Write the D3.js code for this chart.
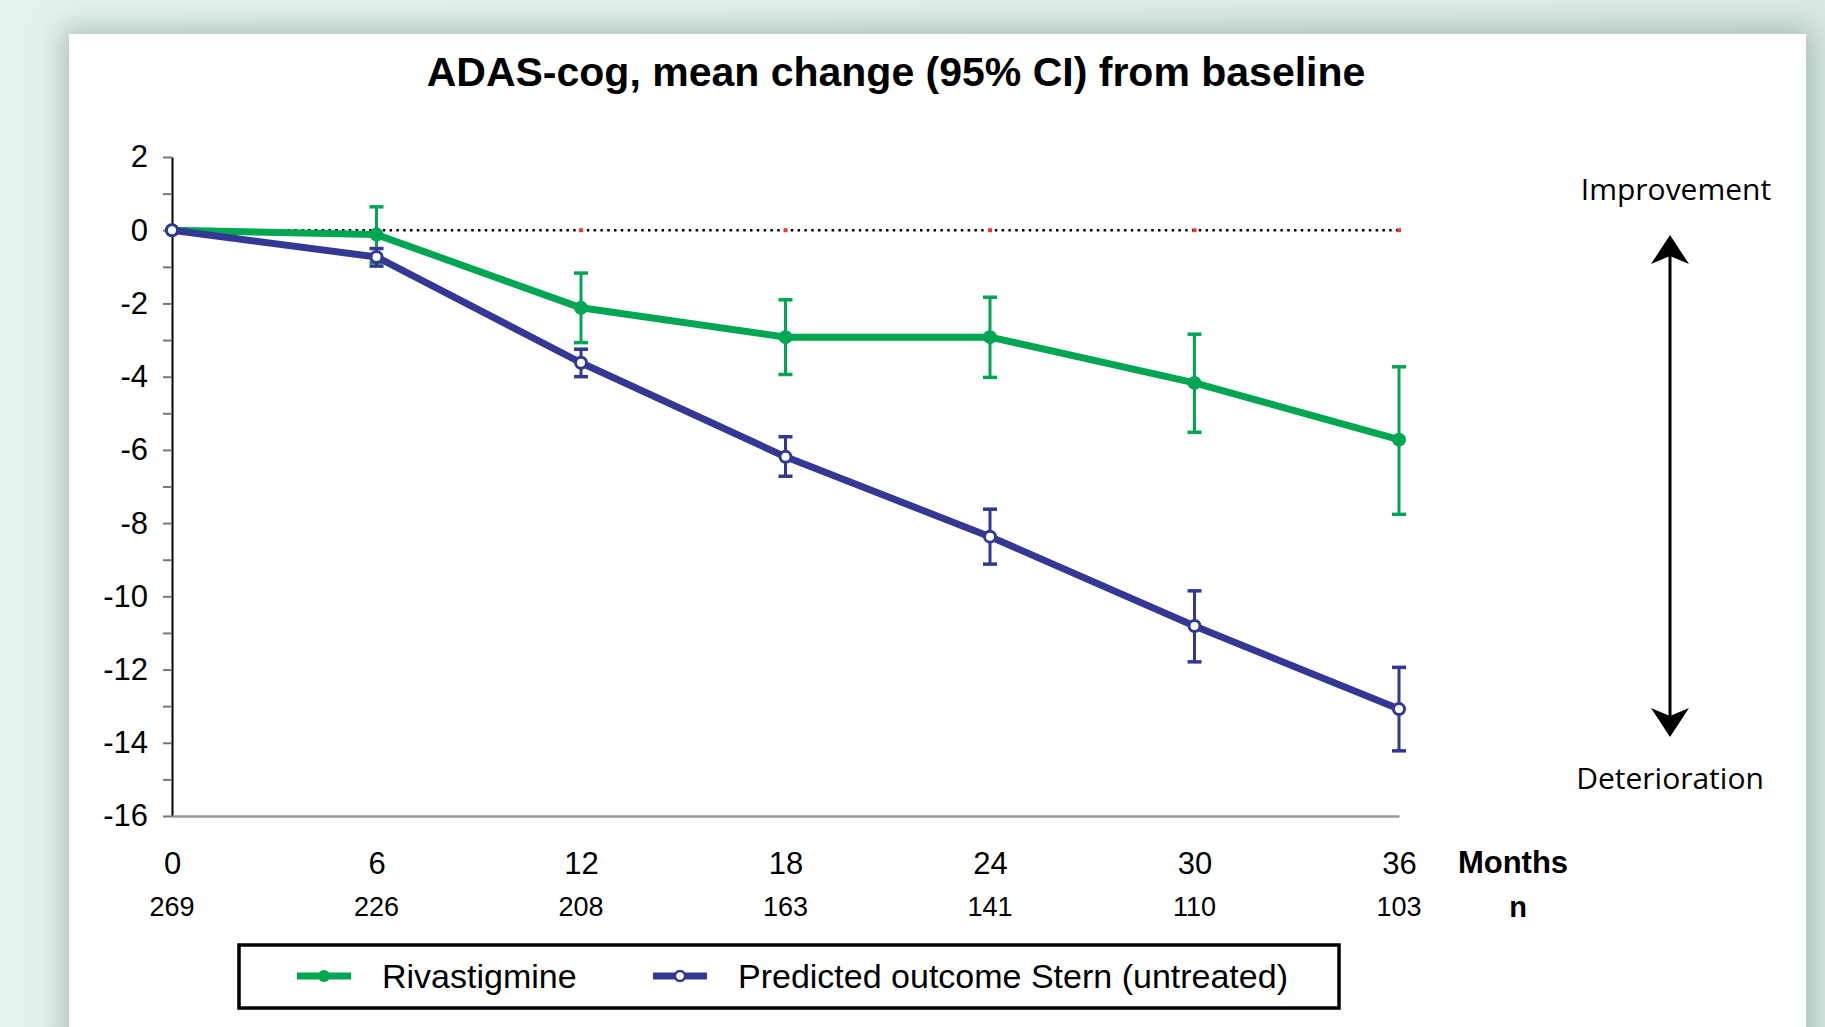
<!DOCTYPE html>
<html>
<head>
<meta charset="utf-8">
<script src="https://cdn.jsdelivr.net/npm/d3@7"></script>
<style>
  html, body { margin: 0; padding: 0; }
  body { width: 1825px; height: 1027px; overflow: hidden;
         background: linear-gradient(90deg, #e6f2ef 0%, #e2eeeb 50%, #dbe8e4 100%); }
  #card { position: absolute; left: 69px; top: 34px; width: 1737px; height: 1100px; background: #fff;
          box-shadow: 0 0 28px 6px rgba(120,150,140,0.55); }
  svg { position: absolute; left: 0; top: 0; }
</style>
</head>
<body>
<div id="card"></div>
<svg id="chart" width="1825" height="1027"></svg>
<script>
// ---- data ----
const months = [0, 6, 12, 18, 24, 30, 36];
const nLabels = ["269", "226", "208", "163", "141", "110", "103"];
const yTicks = [2, 0, -2, -4, -6, -8, -10, -12, -14, -16];

const rivaMean  = [0, -0.12, -2.12, -2.92, -2.92, -4.17, -5.72];
const rivaLow   = [null, -0.88, -3.07, -3.94, -4.02, -5.52, -7.76];
const rivaHigh  = [null, 0.64, -1.17, -1.90, -1.83, -2.84, -3.73];

const sternMean = [0, -0.73, -3.62, -6.19, -8.37, -10.81, -13.08];
const sternLow  = [null, -0.98, -4.00, -6.72, -9.12, -11.79, -14.22];
const sternHigh = [null, -0.50, -3.25, -5.64, -7.62, -9.85, -11.94];

const refMarkMonths = [6, 12, 18, 24, 30, 36];

const seriesNames = ["Rivastigmine", "Predicted outcome Stern (untreated)"];
const titleText = "ADAS-cog, mean change (95% CI) from baseline";

// ---- drawing ----
const green = "#00a651", blue = "#333894";
const svg = d3.select("#chart");
const x = d3.scaleLinear().domain([0, 36]).range([172, 1399]);
const y = d3.scaleLinear().domain([2, -16]).range([157, 816]);
const font = "'Liberation Sans', Arial, sans-serif";

svg.append("text").attr("x", 896).attr("y", 86).attr("text-anchor", "middle")
  .style("font-family", font).style("font-weight", "bold").style("font-size", "41px")
  .text(titleText);

// y axis
const yAxis = d3.axisLeft(y).tickValues(d3.range(-16, 3, 1))
  .tickFormat(d => (yTicks.includes(d) ? String(d) : "")).tickSize(9).tickSizeOuter(0).tickPadding(15);
const gy = svg.append("g").attr("transform", `translate(${x(0)},0)`).call(yAxis);
gy.select(".domain").attr("stroke", "#000").attr("stroke-width", 2);
gy.selectAll(".tick line").attr("stroke", "#777").attr("stroke-width", 2);
gy.selectAll(".tick text").style("font-family", font).style("font-size", "31px").attr("fill", "#000");

// x axis
const xAxis = d3.axisBottom(x).tickValues(months).tickFormat(d => String(d)).tickSize(0).tickPadding(36);
const gx = svg.append("g").attr("transform", `translate(0,${y(-16)})`).call(xAxis);
gx.select(".domain").attr("stroke", "#999").attr("stroke-width", 2.5);
gx.selectAll(".tick text").style("font-family", font).style("font-size", "31px").attr("fill", "#000");

// n labels
svg.append("g").selectAll("text").data(months).join("text")
  .attr("x", d => x(d)).attr("y", 916).attr("text-anchor", "middle")
  .style("font-family", font).style("font-size", "27px").text((d, i) => nLabels[i]);

svg.append("text").attr("x", 1513).attr("y", 873).attr("text-anchor", "middle")
  .style("font-family", font).style("font-weight", "bold").style("font-size", "31px").text("Months");
svg.append("text").attr("x", 1518).attr("y", 917).attr("text-anchor", "middle")
  .style("font-family", font).style("font-weight", "bold").style("font-size", "29px").text("n");

// zero reference dotted line
svg.append("line").attr("x1", x(0)).attr("x2", x(36)).attr("y1", y(0)).attr("y2", y(0))
  .attr("stroke", "#000").attr("stroke-width", 2.5).attr("stroke-dasharray", "2.5,4.3");
svg.append("g").selectAll("rect").data(refMarkMonths).join("rect")
  .attr("x", d => x(d) - 2).attr("y", y(0) - 2).attr("width", 4).attr("height", 4)
  .attr("fill", d => d === 6 ? "#000" : "#ff3030");

// series
function drawSeries(mean, low, high, color, open) {
  const g = svg.append("g");
  const pts = months.map((m, i) => ({ m, v: mean[i], lo: low[i], hi: high[i] }));
  g.append("path").datum(pts)
    .attr("d", d3.line().x(d => x(d.m)).y(d => y(d.v)))
    .attr("fill", "none").attr("stroke", color).attr("stroke-width", 7).attr("stroke-linejoin", "round");
  const eb = g.selectAll(".eb").data(pts.filter(d => d.lo !== null)).join("g");
  eb.append("line").attr("x1", d => x(d.m)).attr("x2", d => x(d.m))
    .attr("y1", d => y(d.lo)).attr("y2", d => y(d.hi)).attr("stroke", color).attr("stroke-width", 3);
  eb.append("line").attr("x1", d => x(d.m) - 7).attr("x2", d => x(d.m) + 7)
    .attr("y1", d => y(d.lo)).attr("y2", d => y(d.lo)).attr("stroke", color).attr("stroke-width", 3.5);
  eb.append("line").attr("x1", d => x(d.m) - 7).attr("x2", d => x(d.m) + 7)
    .attr("y1", d => y(d.hi)).attr("y2", d => y(d.hi)).attr("stroke", color).attr("stroke-width", 3.5);
  g.selectAll("circle").data(pts).join("circle")
    .attr("cx", d => x(d.m)).attr("cy", d => y(d.v)).attr("r", open ? 5.5 : 7)
    .attr("fill", open ? "#fff" : color).attr("stroke", color).attr("stroke-width", open ? 3 : 0);
}
drawSeries(rivaMean, rivaLow, rivaHigh, green, false);
drawSeries(sternMean, sternLow, sternHigh, blue, true);

// improvement/deterioration arrow
const sideFont = "'Open Sans', 'Noto Sans', sans-serif";
svg.append("text").attr("x", 1676).attr("y", 200).attr("text-anchor", "middle")
  .style("font-family", sideFont).style("font-size", "30px").text("Improvement");
svg.append("text").attr("x", 1670).attr("y", 789).attr("text-anchor", "middle")
  .style("font-family", sideFont).style("font-size", "30px").text("Deterioration");
svg.append("line").attr("x1", 1670).attr("x2", 1670).attr("y1", 255).attr("y2", 716)
  .attr("stroke", "#000").attr("stroke-width", 3);
svg.append("path").attr("d", "M1670,235 L1689,264 L1670,256 L1651,264 Z").attr("fill", "#000");
svg.append("path").attr("d", "M1670,737 L1689,708 L1670,716 L1651,708 Z").attr("fill", "#000");

// legend
const lg = svg.append("g");
lg.append("rect").attr("x", 239).attr("y", 945).attr("width", 1100).attr("height", 63)
  .attr("fill", "#fff").attr("stroke", "#000").attr("stroke-width", 3.5);
const legendItems = [
  { name: seriesNames[0], color: green, open: false, x0: 297 },
  { name: seriesNames[1], color: blue, open: true, x0: 653 }
];
legendItems.forEach(it => {
  lg.append("line").attr("x1", it.x0).attr("x2", it.x0 + 54).attr("y1", 976).attr("y2", 976)
    .attr("stroke", it.color).attr("stroke-width", 7);
  lg.append("circle").attr("cx", it.x0 + 27).attr("cy", 976).attr("r", it.open ? 5 : 6)
    .attr("fill", it.open ? "#fff" : it.color).attr("stroke", it.color).attr("stroke-width", it.open ? 2.5 : 0);
  lg.append("text").attr("x", it.x0 + 85).attr("y", 988)
    .style("font-family", font).style("font-size", "34px").text(it.name);
});
</script>
</body>
</html>
